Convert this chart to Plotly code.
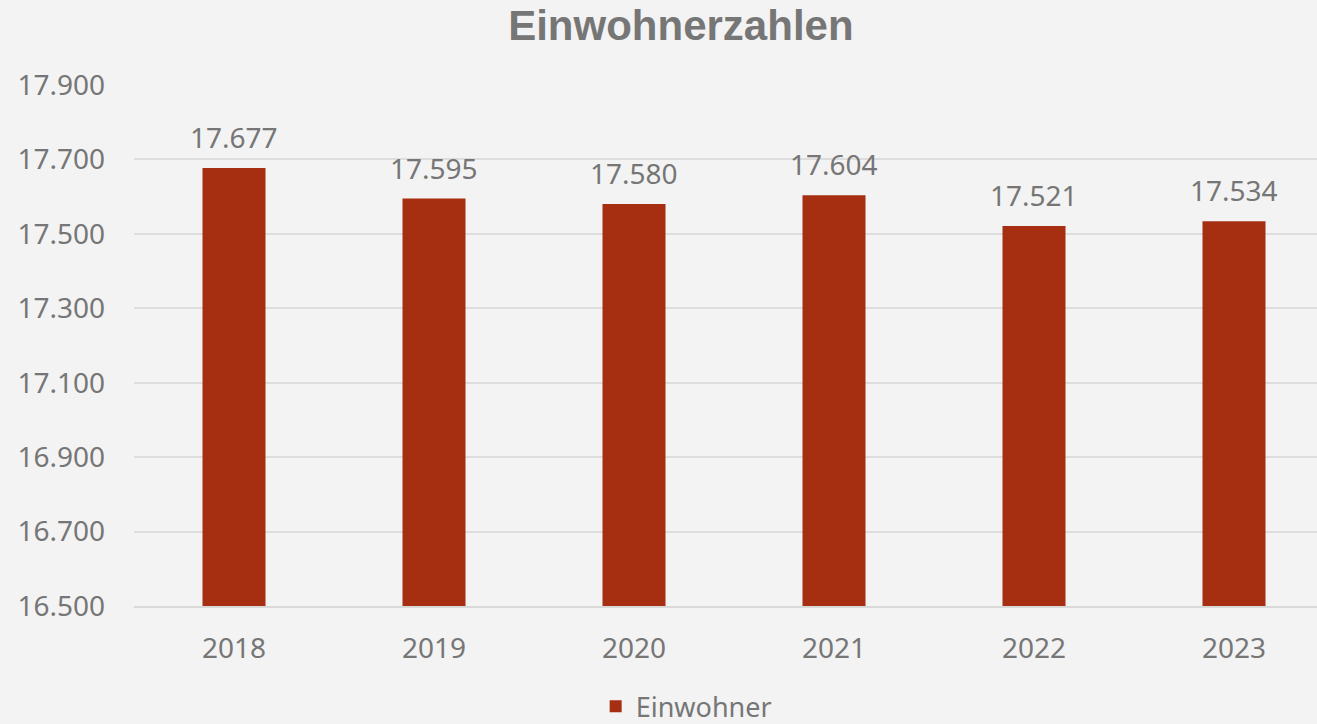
import plotly.graph_objects as go

years = ["2018", "2019", "2020", "2021", "2022", "2023"]
einwohner = [17677, 17595, 17580, 17604, 17521, 17534]
y_ticks = [16500, 16700, 16900, 17100, 17300, 17500, 17700, 17900]

bar_color = "#A52F10"
text_color = "#767676"
font_family = "Noto Sans, Open Sans, sans-serif"

fig = go.Figure()
fig.add_trace(go.Bar(
    x=years, y=einwohner, name="Einwohner",
    marker=dict(color=bar_color, line=dict(width=0)),
    width=0.315,
))

for i, v in enumerate(einwohner):
    fig.add_annotation(
        x=i, y=v, xref="x", yref="y", text=f"{v:,}".replace(",", "."),
        showarrow=False, yanchor="bottom", yshift=10,
        font=dict(size=28, color=text_color, family=font_family),
    )

fig.update_layout(
    width=1317, height=724,
    paper_bgcolor="#F3F3F3", plot_bgcolor="#F3F3F3",
    margin=dict(l=134, r=0, t=85, b=118),
    separators=",.",
    title=dict(
        text="<b>Einwohnerzahlen</b>", x=0.517, xref="container",
        y=0.965, yref="container", xanchor="center", yanchor="middle",
        font=dict(size=42, color=text_color, family="Liberation Sans, Arial, sans-serif"),
    ),
    showlegend=True,
    legend=dict(
        orientation="h", xref="container", yref="container",
        x=0.521, y=0.024, xanchor="center", yanchor="middle",
        font=dict(size=27, color=text_color, family=font_family),
        bgcolor="rgba(0,0,0,0)",
    ),
    xaxis=dict(
        type="category", range=[-0.5, 5.415],
        showgrid=False, showline=True, linecolor="#D9D9D9", linewidth=1.5,
        ticks="", ticklabelstandoff=17,
        tickfont=dict(size=28, color=text_color, family=font_family),
    ),
    yaxis=dict(
        range=[16500, 17900], tickvals=y_ticks, tickformat=",d",
        showgrid=True, gridcolor="#DDDDDD", gridwidth=1.5,
        zeroline=False, showline=False, ticks="", ticklabelstandoff=28,
        tickfont=dict(size=28, color=text_color, family=font_family),
    ),
)

fig.write_html(
    "out.html",
    config={"displayModeBar": False},
    post_script="document.body.style.margin='0';document.body.style.padding='0';",
)
